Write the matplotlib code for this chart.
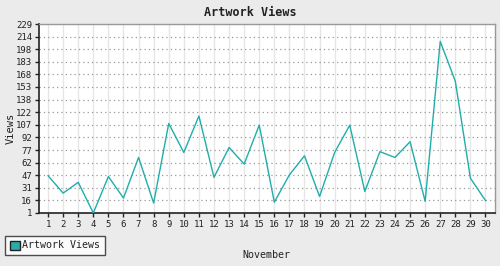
import matplotlib
matplotlib.use("Agg")
import matplotlib.pyplot as plt
from matplotlib.patches import Patch

days = list(range(1, 31))
views = [46, 25, 38, 1, 45, 19, 68, 13, 109, 74, 118, 44, 80, 60, 107,
         14, 47, 70, 21, 74, 107, 27, 75, 68, 87, 15, 208, 160, 43, 16]
ytick_labels = [1, 16, 31, 47, 62, 77, 92, 107, 122, 138, 153, 168, 183, 198, 214, 229]
series_name = "Artwork Views"
title = "Artwork Views"
xlabel = "November"
ylabel = "Views"

line_color = "#20aeaa"
bg = "#ebebeb"
font = "DejaVu Sans Mono"

fig = plt.figure(figsize=(5.0, 2.66), dpi=100, facecolor=bg)
ax = fig.add_axes([39/500, 1-213/266, (495-39)/500, (213-24)/266])
ax.set_facecolor("white")

ax.plot(days, views, color=line_color, linewidth=1.0, zorder=3)

ymin, ymax = 1, 229
ax.set_ylim(ymin, ymax)
ax.set_xlim(0.4, 30.63)
yt = [ymin + (ymax - ymin) * k / 15 for k in range(16)]
ax.set_yticks(yt)
ax.set_yticklabels([str(v) for v in ytick_labels])
ax.set_xticks(days)
ax.set_xticklabels([str(d) for d in days])

for y in yt[1:-1]:
    ax.axhline(y, color="#999999", linestyle=(0, (1, 2.5)), linewidth=0.9, zorder=1)
for d in days:
    ax.axvline(d, color="#e6e6e6", linewidth=1.0, zorder=0)

for s in ["left", "bottom"]:
    ax.spines[s].set_color("#222222")
    ax.spines[s].set_linewidth(1.2)
for s in ["top", "right"]:
    ax.spines[s].set_color("#999999")
    ax.spines[s].set_linewidth(1.0)

ax.tick_params(axis="both", direction="out", length=3, width=1, color="#222222",
               labelsize=6.5, labelcolor="#222222", pad=2)
for lab in ax.get_xticklabels() + ax.get_yticklabels():
    lab.set_family(font)

fig.text(0.5, 1-12/266, title, ha="center", va="center", family=font,
         fontweight="bold", fontsize=8.5, color="#222222")
fig.text(11/500, 1-128/266, ylabel, ha="center", va="center", rotation=90,
         family=font, fontsize=7.5, color="#222222")
fig.text(266/500, 1-255/266, xlabel, ha="center", va="center",
         family=font, fontsize=7.2, color="#222222")

handle = Patch(facecolor="#2aacac", edgecolor="#222222", linewidth=1.0)
leg = fig.legend([handle], [series_name], loc="upper left",
                 bbox_to_anchor=(5/500, 1-236/266), frameon=True, fancybox=False,
                 prop={"family": font, "size": 7.2}, borderpad=0.45,
                 handlelength=1.0, handleheight=1.0, handletextpad=0.3,
                 borderaxespad=0)
leg.get_frame().set_edgecolor("#222222")
leg.get_frame().set_linewidth(1.0)
leg.get_frame().set_facecolor("white")
for t in leg.get_texts():
    t.set_color("#222222")

fig.savefig("out.png", dpi=100, facecolor=bg)
